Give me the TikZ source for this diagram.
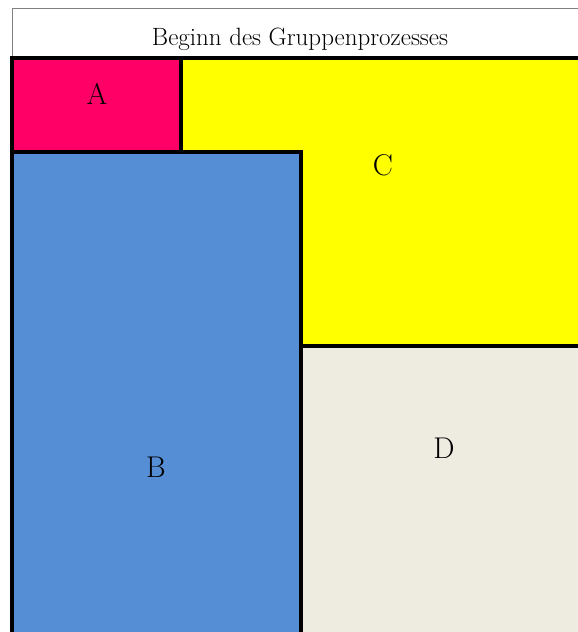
\documentclass[tikz,border=0pt]{standalone}
\usepackage{tikz}
\usetikzlibrary{positioning}

\definecolor{phaseA}{HTML}{FF0066}
\definecolor{phaseB}{HTML}{558ED5}
\definecolor{phaseC}{HTML}{FFFF00}
\definecolor{phaseD}{HTML}{EEEBE0}

\begin{document}
\begin{tikzpicture}[x=1pt, y=-1pt,
  header/.style={draw=black!50, line width=1pt, fill=white},
  phase/.style={draw=black, line width=4pt},
  phaselabel/.style={anchor=base, inner sep=0pt, font=\fontsize{30}{34}\selectfont},
  headerlabel/.style={anchor=base, inner sep=0pt, font=\fontsize{25}{29}\selectfont}
]
\useasboundingbox (0,0) rectangle (578,632);
\clip (0,0) rectangle (578,632);
\fill[white] (0,0) rectangle (578,632);

% Kopfzeile
\draw[header] (12,8) rectangle (600,58);
\node[headerlabel] (title) at (300,45) {Beginn des Gruppenprozesses};

% Phasen
\draw[phase, fill=phaseC] (181,58) rectangle (600,346);
\draw[phase, fill=phaseD] (301,346) rectangle (600,660);
\draw[phase, fill=phaseA] (12,58) rectangle (181,152);
\draw[phase, fill=phaseB] (12,152) rectangle (301,660);

\node[phaselabel] (A) at (97,104) {A};
\node[phaselabel] (B) at (156,477) {B};
\node[phaselabel] (C) at (383,175) {C};
\node[phaselabel] (D) at (444,458) {D};
\end{tikzpicture}
\end{document}
